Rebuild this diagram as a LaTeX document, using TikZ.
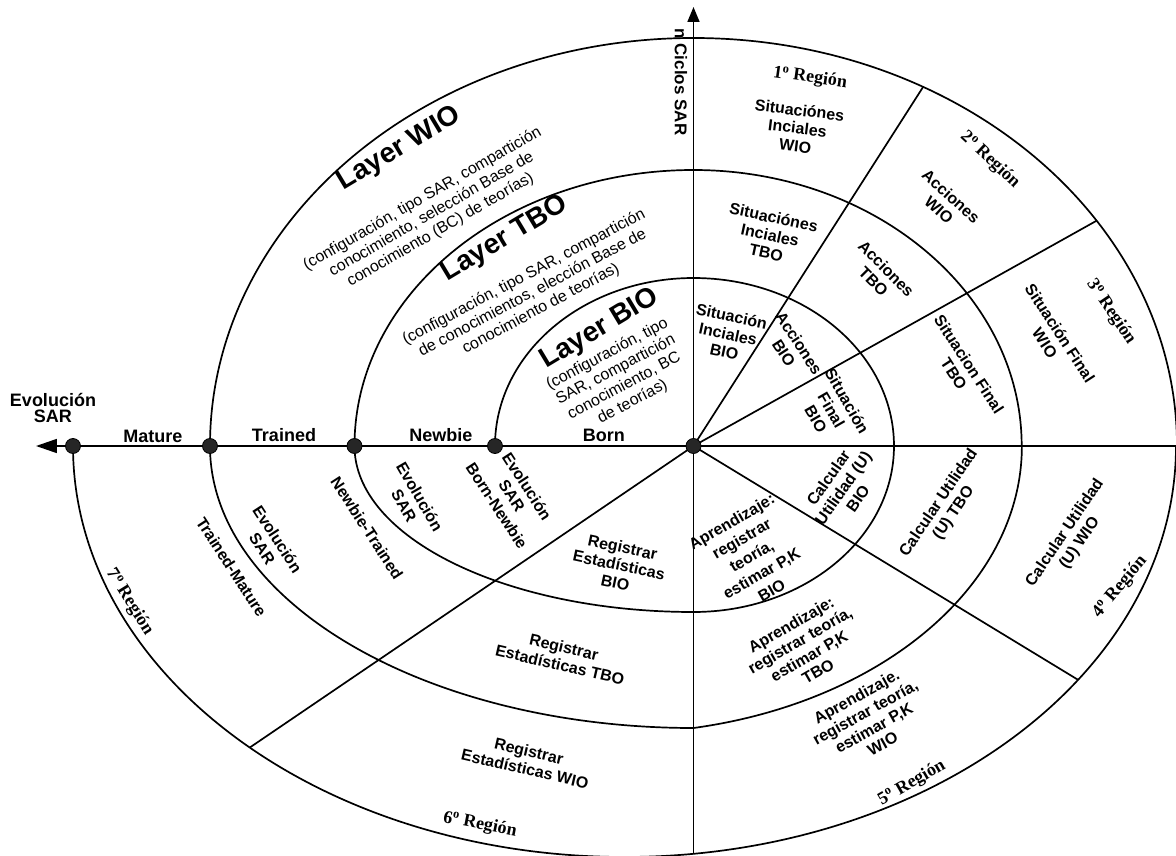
\documentclass[tikz,border=0pt]{standalone}
\usepackage{fontspec}
\setmainfont{Liberation Sans}
\newfontfamily\regfont{Liberation Serif}
\usetikzlibrary{arrows.meta}
\begin{document}
\begin{tikzpicture}[x=1pt,y=1pt,
  ring/.style={line width=1.7pt},
  ray/.style={line width=1.7pt},
  lbl/.style={align=center,inner sep=0pt,font=\fontsize{16}{18}\selectfont\bfseries},
  axlbl/.style={align=center,inner sep=0pt,font=\fontsize{18}{16}\selectfont\bfseries},
  region/.style={inner sep=0pt,font=\fontsize{18}{20}\selectfont\regfont\bfseries},
  layertitle/.style={inner sep=0pt,font=\fontsize{28}{30}\selectfont\bfseries},
  layerdesc/.style={align=center,inner sep=0pt,font=\fontsize{16}{18}\selectfont},
  dot/.style={circle,fill=black!85,draw=black,line width=0.8pt,inner sep=0pt,minimum size=15pt},
]
\useasboundingbox (-693.5,-409) rectangle (482.5,446);

% centre and the stage points on the evolution axis
\coordinate (O) at (0,0);
\coordinate (pB) at (-198.5,0);
\coordinate (pN) at (-339,0);
\coordinate (pT) at (-483.5,0);
\coordinate (pM) at (-620.5,0);
\coordinate (leftend) at (-657.5,0);
\coordinate (topend) at (0,439);

% region dividers, cut at the outer (WIO) boundary
\begin{scope}
  \clip (pT) arc[start angle=180,end angle=0,x radius=483.5,y radius=408]
        -- (482.5,0) arc[start angle=0,end angle=-180,x radius=551.5,y radius=411]
        -- cycle;
  \draw[ray] (O) -- ++(57.4:700);
  \draw[ray] (O) -- ++(29.2:700);
  \draw[ray] (O) -- ++(0:700);
  \draw[ray] (O) -- ++(-31.3:700);
  \draw[ray] (O) -- ++(-90:700);
  \draw[ray] (O) -- ++(214.2:800);
\end{scope}

% axes
\draw[ray,-{Triangle[length=21pt,width=14pt]}] (O) -- (leftend);
\draw[ray,-{Triangle[length=15pt,width=12pt]}] (O) -- (topend);

% WIO layer
\draw[ring] (pT) arc[start angle=180,end angle=0,x radius=483.5,y radius=408];
\draw[ring] (pM) arc[start angle=180,end angle=360,x radius=551.5,y radius=411];
% TBO layer
\draw[ring] (pN) arc[start angle=180,end angle=90,x radius=339,y radius=276]
                 arc[start angle=90,end angle=0,x radius=328.2,y radius=276];
\draw[ring] (pT) arc[start angle=180,end angle=270,x radius=483.5,y radius=282]
                 arc[start angle=281,end angle=360,x radius=405.8,y radius=287];
% BIO layer
\draw[ring] (pB) arc[start angle=180,end angle=90,x radius=198.5,y radius=168]
                 arc[start angle=90,end angle=0,x radius=200.5,y radius=168];
\draw[ring] (pN) arc[start angle=180,end angle=270,x radius=339,y radius=166]
                 arc[start angle=270,end angle=360,x radius=200.5,y radius=166];

% stage markers
\node[dot] (dO) at (O) {};
\node[dot] (dB) at (pB) {};
\node[dot] (dN) at (pN) {};
\node[dot] (dT) at (pT) {};
\node[dot] (dM) at (pM) {};

% axis labels
\node[axlbl] (evol) at (-640.5,38) {Evolución\\SAR};
\node[axlbl] (mature) at (-540.5,10) {Mature};
\node[axlbl] (trained) at (-409.5,11) {Trained};
\node[axlbl] (newbie) at (-252.5,11) {Newbie};
\node[axlbl] (born) at (-89.5,11) {Born};
\node[lbl,font=\fontsize{17}{18}\selectfont\bfseries,rotate=-90] (ciclos) at (-12.5,364) {n Ciclos SAR};

% layer titles and descriptions
\node[layertitle,rotate=31] (lwio) at (-294,297) {Layer WIO};
\node[layerdesc,rotate=30] (dwio) at (-262,231.5) {(configuración, tipo SAR, compartición\\conocimiento, selección Base de\\conocimiento  (BC) de teorías)};
\node[layertitle,rotate=31] (ltbo) at (-188.5,207) {Layer TBO};
\node[layerdesc,rotate=28] (dtbo) at (-161,153) {(configuración, tipo SAR, compartición\\de conocimientos, elección Base de\\conocimiento de teorías)};
\node[layertitle,rotate=31] (lbio) at (-93.5,117) {Layer BIO};
\node[layerdesc,rotate=28] (dbio) at (-73.5,68) {(configuración, tipo\\SAR, compartición\\conocimiento, BC\\de teorías)};

% region 1
\node[region,rotate=-8] (r1) at (116.5,368) {1\textsuperscript{o} Región};
\node[lbl,rotate=-7] (s1w) at (104,318) {Situaciónes\\Inciales\\WIO};
\node[lbl,rotate=-12] (s1t) at (76.5,211) {Situaciónes\\Inciales\\TBO};
\node[lbl,rotate=-12] (s1b) at (34.5,112) {Situación\\Inciales\\BIO};
% region 2
\node[region,rotate=-43] (r2) at (296.5,286) {2\textsuperscript{o} Región};
\node[lbl,rotate=-42] (s2w) at (251.5,243) {Acciones\\WIO};
\node[lbl,rotate=-45] (s2t) at (186.5,171) {Acciones\\TBO};
\node[lbl,rotate=-57] (s2b) at (98,98) {Acciones\\BIO};
% region 3
\node[region,rotate=-56] (r3) at (417.5,134) {3\textsuperscript{o} Región};
\node[lbl,rotate=-57] (s3w) at (359,108) {Situación Final\\WIO};
\node[lbl,rotate=-57] (s3t) at (268,77) {Situacion Final\\TBO};
\node[lbl,rotate=-60] (s3b) at (138,36) {Situación\\Final\\BIO};
% region 4
\node[region,rotate=50] (r4) at (426.5,-141) {4\textsuperscript{o} Región};
\node[lbl,rotate=56] (s4w) at (379,-92) {Calcular Utilidad\\(U) WIO};
\node[lbl,rotate=56] (s4t) at (253,-62) {Calcular Utilidad\\(U) TBO};
\node[lbl,rotate=55] (s4b) at (149.5,-42) {Calcular\\Utilidad (U)\\BIO};
% region 5
\node[region,rotate=30] (r5) at (218.5,-337) {5\textsuperscript{o} Región};
\node[lbl,rotate=29] (s5w) at (176,-274) {Aprendizaje.\\registrar teoría,\\estimar P,K\\WIO};
\node[lbl,rotate=30] (s5t) at (111,-202) {Aprendizaje:\\registrar teoría,\\estimar P,K\\TBO};
\node[lbl,font=\fontsize{16}{20}\selectfont\bfseries,rotate=30] (s5b) at (58,-110) {Aprendizaje:\\registrar\\teoría,\\estimar P,K\\BIO};
% region 6
\node[region,rotate=-11] (r6) at (-213.5,-379) {6\textsuperscript{o} Región};
\node[lbl,rotate=-13] (s6w) at (-166.5,-314) {Registrar\\Estadísticas WIO};
\node[lbl,rotate=-13] (s6t) at (-131.5,-210) {Registrar\\Estadísticas TBO};
\node[lbl,rotate=-12] (s6b) at (-74.5,-119) {Registrar\\Estadísticas\\BIO};
% region 7
\node[region,rotate=-58] (r7) at (-564,-156) {7\textsuperscript{o} Región};
\node[lbl,rotate=-57] (tm) at (-462,-121) {Trained-Mature};
\node[lbl,rotate=-57] (e3) at (-423.5,-98) {Evolución\\SAR};
\node[lbl,rotate=-57] (nt) at (-326.5,-82) {Newbie-Trained};
\node[lbl,rotate=-60] (e2) at (-281.5,-55) {Evolución\\SAR};
\node[lbl,rotate=-57] (e1) at (-181.5,-50) {Evolución\\SAR\\Born-Newbie};
\end{tikzpicture}
\end{document}
